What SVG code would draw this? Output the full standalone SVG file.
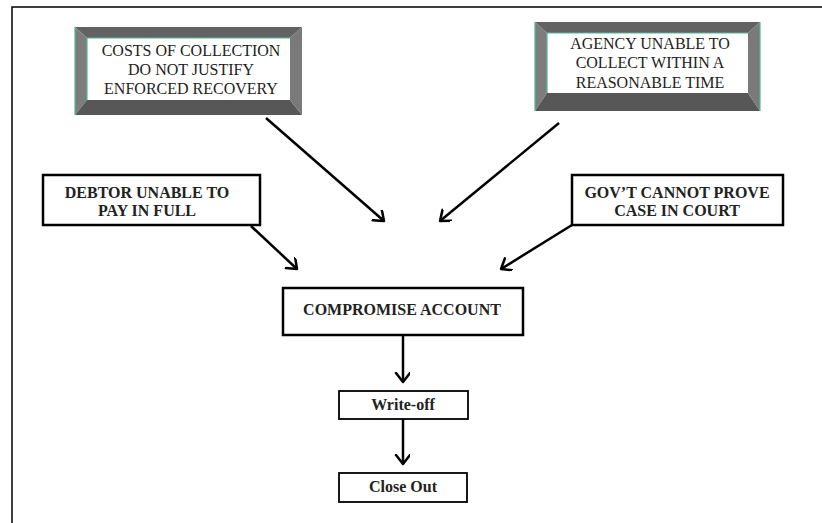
<svg xmlns="http://www.w3.org/2000/svg" width="822" height="523" viewBox="0 0 822 523">
<style>
.box{fill:#fff;stroke:#000;stroke-width:2.5}
.sm{fill:#fff;stroke:#000;stroke-width:1.8}
.bt{fill:#fff;stroke:none}
.tb{font-family:"Liberation Serif","Times New Roman",serif;font-size:16px;font-weight:normal;fill:#222;text-anchor:middle}
.b{font-family:"Liberation Serif","Times New Roman",serif;font-size:16px;font-weight:bold;fill:#222;text-anchor:middle}
.c{stroke:#000;stroke-width:2.5;fill:none;marker-end:url(#ah)}
.top{fill:#626262}.lft{fill:#7d7d7d}.bot{fill:#575757}.rgt{fill:#7a7a7a}
.teal{fill:none;stroke:#4fb89e;stroke-width:1.2}
</style>
<defs>
<marker id="ah" markerWidth="20" markerHeight="20" refX="10" refY="7" orient="auto" markerUnits="userSpaceOnUse">
<polyline points="1,0 10,7 1,14" fill="none" stroke="#000" stroke-width="2.5" stroke-linecap="round" stroke-linejoin="round"/>
</marker>
</defs>
<rect width="822" height="523" fill="#fff"/>
<polyline points="12,523 12,7 822,7" fill="none" stroke="#000" stroke-width="1.5"/>

<g id="costs">
<polygon class="top" points="75,27 302,27 290,38 87,38"/>
<polygon class="lft" points="75,27 87,38 87,100 75,115"/>
<polygon class="bot" points="75,115 87,100 290,100 302,115"/>
<polygon class="rgt" points="302,27 302,115 290,100 290,38"/>
<rect class="bt" x="87" y="38" width="203" height="62"/>
<polyline class="teal" points="75,115 75,27"/>
<polyline class="teal" points="87,100 87,38 290,38"/>
<text class="tb" x="191" y="56">COSTS OF COLLECTION</text>
<text class="tb" x="191" y="75">DO NOT JUSTIFY</text>
<text class="tb" x="191" y="94">ENFORCED RECOVERY</text>
</g>

<g id="agency">
<polygon class="top" points="535,22 760,22 748,33 547,33"/>
<polygon class="lft" points="535,22 547,33 547,93 535,111"/>
<polygon class="bot" points="535,111 547,93 748,93 760,111"/>
<polygon class="rgt" points="760,22 760,111 748,93 748,33"/>
<rect class="bt" x="547" y="33" width="201" height="60"/>
<polyline class="teal" points="535,111 535,22"/>
<polyline class="teal" points="760,22 760,111"/>
<polyline class="teal" points="547,93 547,33 748,33"/>
<text class="tb" x="650" y="49">AGENCY UNABLE TO</text>
<text class="tb" x="650" y="68">COLLECT WITHIN A</text>
<text class="tb" x="650" y="88">REASONABLE TIME</text>
</g>

<g id="debtor">
<rect class="box" x="43" y="175" width="217" height="50"/>
<text class="b" x="147" y="198">DEBTOR UNABLE TO</text>
<text class="b" x="147" y="216">PAY IN FULL</text>
</g>

<g id="gov">
<rect class="box" x="572" y="175" width="211" height="50"/>
<text class="b" x="677" y="198">GOV’T CANNOT PROVE</text>
<text class="b" x="677" y="216">CASE IN COURT</text>
</g>

<g id="compromise">
<rect class="box" x="283" y="288" width="240" height="47"/>
<text class="b" x="402" y="315">COMPROMISE ACCOUNT</text>
</g>

<g id="writeoff">
<rect class="sm" x="339" y="391" width="129" height="28"/>
<text class="b" x="403" y="410">Write-off</text>
</g>

<g id="closeout">
<rect class="sm" x="339" y="473" width="128" height="29"/>
<text class="b" x="403" y="492">Close Out</text>
</g>

<g id="connectors">
<line class="c" x1="266" y1="118" x2="384" y2="221"/>
<line class="c" x1="559" y1="123" x2="440" y2="221"/>
<line class="c" x1="251" y1="226" x2="297" y2="269"/>
<line class="c" x1="572" y1="225" x2="501" y2="269"/>
<line class="c" x1="403" y1="335" x2="403" y2="382"/>
<line class="c" x1="403" y1="419" x2="403" y2="464"/>
</g>
</svg>
